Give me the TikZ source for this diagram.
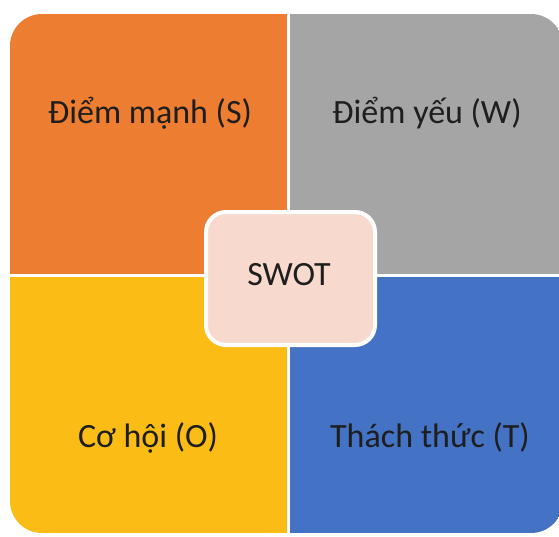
\documentclass[tikz,border=0pt]{standalone}
\usepackage{fontspec}
\setmainfont{Carlito}
\definecolor{qorange}{HTML}{ED7D31}
\definecolor{qgrey}{HTML}{A5A5A5}
\definecolor{qyellow}{HTML}{FBBD15}
\definecolor{qblue}{HTML}{4472C4}
\definecolor{qpink}{HTML}{F8D9CE}
\definecolor{qtext}{HTML}{1E1E1E}
\begin{document}
\begin{tikzpicture}[x=1pt,y=-1pt,
  lbl/.style={anchor=base,text=qtext,font=\fontsize{34}{38}\selectfont,inner sep=0pt},
  center box/.style={draw=white,line width=4pt,fill=qpink,rounded corners=20pt,
    minimum width=169pt,minimum height=133pt,inner sep=0pt}]
\useasboundingbox (0,0) rectangle (559,536);
\fill[white] (0,0) rectangle (559,536);
\begin{scope}
  \clip[rounded corners=32pt] (10,14) rectangle (563,533);
  \fill[qorange] (10,14) rectangle (288,275);
  \fill[qgrey] (288,14) rectangle (563,275);
  \fill[qyellow] (10,275) rectangle (288,533);
  \fill[qblue] (288,275) rectangle (563,533);
  \draw[white,line width=3pt] (288,14) -- (288,533);
  \draw[white,line width=3pt] (10,275) -- (563,275);
\end{scope}
\node[lbl] (s) at (150,123) {Điểm mạnh (S)};
\node[lbl] (w) at (427,123) {Điểm yếu (W)};
\node[lbl] (o) at (148,447) {Cơ hội (O)};
\node[lbl] (t) at (430,447) {Thách thức (T)};
\node[center box] (swot) at (290.5,278.5) {};
\node[lbl] (swotlbl) at (289,285) {SWOT};
\end{tikzpicture}
\end{document}
